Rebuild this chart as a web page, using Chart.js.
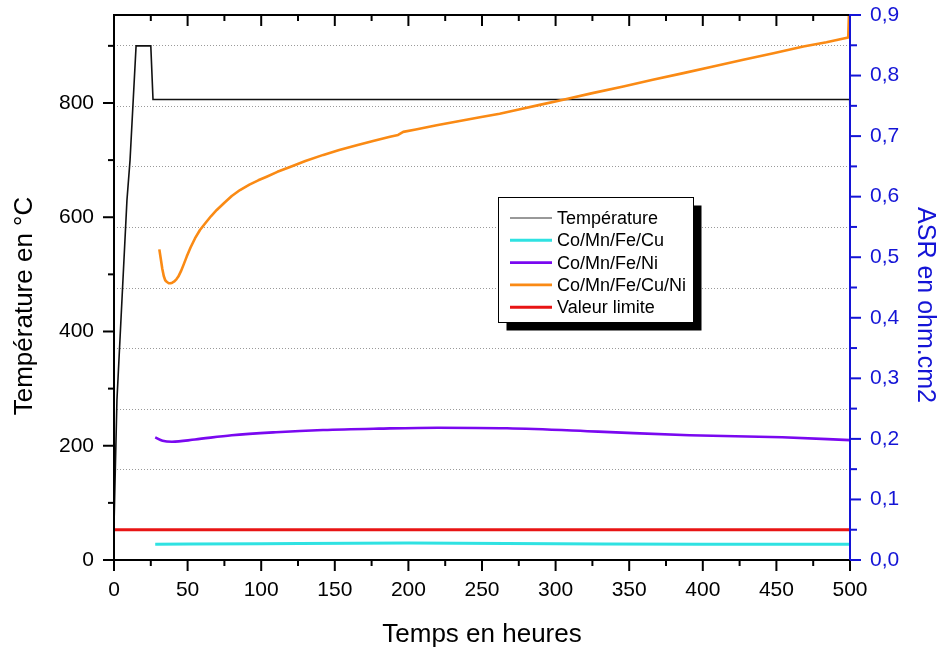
<!DOCTYPE html>
<html><head><meta charset="utf-8">
<script src="https://cdn.jsdelivr.net/npm/chart.js@4/dist/chart.umd.min.js"></script>
<style>html,body{margin:0;padding:0;background:#fff}#wrap{width:942px;height:651px;position:relative}</style>
</head><body><div id="wrap"><canvas id="c" width="942" height="651"></canvas></div>
<script>
// ---- data ----
const tempHours  = [0, 2, 8.8, 10.9, 15, 25, 26.5, 499.8, 500];
const tempValues = [60, 280, 630, 700, 900, 900, 806, 806, 758];

const cuNiHours  = [30.8, 31.8, 32.8, 33.8, 34.8, 36, 37.2, 38.4, 39.6, 41, 42.5, 43.7, 45.5, 47.5, 49.4, 52, 55, 58.4, 62, 66, 69.8, 75, 80, 85.6, 92, 98, 103.7, 111, 119.6, 130, 142.2, 153, 164.9, 176, 187.5, 193, 196.5, 205, 219.2, 233, 248.6, 262, 275, 290, 305.2, 325, 346, 366, 386.8, 407, 427.5, 448, 468.3, 484, 498.8, 499.9];
const cuNiValues = [0.513, 0.497, 0.481, 0.469, 0.462, 0.459, 0.457, 0.457, 0.458, 0.460, 0.464, 0.468, 0.477, 0.489, 0.501, 0.516, 0.531, 0.545, 0.556, 0.568, 0.578, 0.590, 0.601, 0.611, 0.620, 0.627, 0.633, 0.641, 0.649, 0.659, 0.669, 0.677, 0.685, 0.692, 0.699, 0.702, 0.707, 0.711, 0.718, 0.724, 0.731, 0.737, 0.744, 0.752, 0.760, 0.771, 0.782, 0.793, 0.804, 0.815, 0.826, 0.837, 0.848, 0.855, 0.863, 0.95];

const niHours  = [28, 33, 39.4, 55, 80, 110, 142, 180, 220, 267, 329, 391, 454, 500];
const niValues = [0.2026, 0.197, 0.1953, 0.199, 0.206, 0.211, 0.2147, 0.217, 0.2185, 0.2175, 0.212, 0.206, 0.2026, 0.198];

const cuHours  = [28, 100, 200, 300, 400, 500];
const cuValues = [0.026, 0.027, 0.028, 0.027, 0.026, 0.026];

const limitHours  = [0, 500];
const limitValues = [0.05, 0.05];

const xTicks    = [0, 50, 100, 150, 200, 250, 300, 350, 400, 450, 500];
const tempTicks = [0, 200, 400, 600, 800];
const asrTicks  = [0, 0.1, 0.2, 0.3, 0.4, 0.5, 0.6, 0.7, 0.8, 0.9];
const asrLabels = ['0,0','0,1','0,2','0,3','0,4','0,5','0,6','0,7','0,8','0,9'];

const labels = ['Température', 'Co/Mn/Fe/Cu', 'Co/Mn/Fe/Ni', 'Co/Mn/Fe/Cu/Ni', 'Valeur limite'];
const xTitle = 'Temps en heures';
const yTitle = 'Température en °C';
const y2Title = 'ASR en ohm.cm2';

const pts = (xs, ys) => xs.map((x, i) => ({x, y: ys[i]}));

const FONT = "'Liberation Sans', Arial, sans-serif";
const BLUE = '#1414d6';

const frame = {
  id: 'frame',
  beforeDatasetsDraw(chart) {
    const {ctx, chartArea: a, scales} = chart;
    ctx.save();
    ctx.strokeStyle = '#9a9a9a';
    ctx.lineWidth = 1;
    ctx.setLineDash([1, 2]);
    for (let v = 0.05; v < 0.9; v += 0.1) {
      const y = Math.round(scales.yA.getPixelForValue(v)) + 0.5;
      ctx.beginPath(); ctx.moveTo(a.left, y); ctx.lineTo(a.right, y); ctx.stroke();
    }
    ctx.restore();
  },
  afterDatasetsDraw(chart) {
    const {ctx, chartArea: a, scales} = chart;
    const sx = scales.x, sT = scales.yT, sA = scales.yA;
    ctx.save();
    ctx.setLineDash([]);
    // frame
    ctx.lineWidth = 2;
    ctx.strokeStyle = '#000';
    ctx.beginPath();
    ctx.moveTo(a.right, a.top); ctx.lineTo(a.left, a.top); ctx.lineTo(a.left, a.bottom); ctx.lineTo(a.right, a.bottom);
    ctx.stroke();
    ctx.strokeStyle = BLUE;
    ctx.beginPath(); ctx.moveTo(a.right, a.top - 1); ctx.lineTo(a.right, a.bottom + 1); ctx.stroke();

    // x ticks (bottom outward, top inward)
    ctx.strokeStyle = '#000';
    ctx.lineWidth = 2;
    for (let v = 0; v <= 500; v += 25) {
      const x = sx.getPixelForValue(v);
      const major = v % 50 === 0;
      const L = major ? 11 : 6;
      ctx.beginPath(); ctx.moveTo(x, a.bottom); ctx.lineTo(x, a.bottom + L); ctx.stroke();
      if (v > 0 && v < 500) {
        ctx.beginPath(); ctx.moveTo(x, a.top); ctx.lineTo(x, a.top + L); ctx.stroke();
      }
    }
    // left ticks
    for (let v = 0; v <= 900; v += 100) {
      const y = sT.getPixelForValue(v);
      const L = v % 200 === 0 ? 11 : 6;
      ctx.beginPath(); ctx.moveTo(a.left, y); ctx.lineTo(a.left - L, y); ctx.stroke();
    }
    // right ticks
    ctx.strokeStyle = BLUE;
    for (let i = 0; i <= 18; i++) {
      const v = i * 0.05;
      const y = sA.getPixelForValue(v);
      const L = i % 2 === 0 ? 11 : 7;
      ctx.beginPath(); ctx.moveTo(a.right, y); ctx.lineTo(a.right + L, y); ctx.stroke();
    }

    // tick labels
    ctx.font = '21px ' + FONT;
    ctx.fillStyle = '#000';
    ctx.textAlign = 'center'; ctx.textBaseline = 'middle';
    xTicks.forEach(v => ctx.fillText(String(v), sx.getPixelForValue(v), a.bottom + 30));
    ctx.textAlign = 'right';
    tempTicks.forEach(v => ctx.fillText(String(v), a.left - 20, sT.getPixelForValue(v)));
    ctx.fillStyle = BLUE;
    ctx.textAlign = 'left';
    asrTicks.forEach((v, i) => ctx.fillText(asrLabels[i], a.right + 20, sA.getPixelForValue(v)));

    // titles
    ctx.fillStyle = '#000';
    ctx.font = '26px ' + FONT;
    ctx.textAlign = 'center'; ctx.textBaseline = 'alphabetic';
    ctx.fillText(xTitle, (a.left + a.right) / 2, 642);
    ctx.save();
    ctx.translate(32, 306); ctx.rotate(-Math.PI / 2);
    ctx.fillText(yTitle, 0, 0);
    ctx.restore();
    ctx.save();
    ctx.fillStyle = BLUE;
    ctx.font = '25px ' + FONT;
    ctx.translate(918, 305); ctx.rotate(Math.PI / 2);
    ctx.fillText(y2Title, 0, 0);
    ctx.restore();

    // legend
    const bx = 498.5, by = 197.5, bw = 195, bh = 125;
    ctx.fillStyle = '#000';
    ctx.fillRect(bx + 8, by + 8, bw, bh);
    ctx.fillStyle = '#fff';
    ctx.fillRect(bx, by, bw, bh);
    ctx.lineWidth = 1; ctx.strokeStyle = '#000';
    ctx.strokeRect(bx, by, bw, bh);
    ctx.font = '18px ' + FONT;
    ctx.textAlign = 'left'; ctx.textBaseline = 'middle';
    chart.data.datasets.forEach((ds, i) => {
      const y = 218 + i * 22.3;
      ctx.strokeStyle = ds.legendColor || ds.borderColor;
      ctx.lineWidth = ds.legendWidth;
      ctx.beginPath(); ctx.moveTo(510, y); ctx.lineTo(552, y); ctx.stroke();
      ctx.fillStyle = '#000';
      ctx.fillText(ds.label, 557, y + 1);
    });
    ctx.restore();
  }
};

new Chart(document.getElementById('c'), {
  type: 'line',
  data: {
    datasets: [
      {label: labels[0], data: pts(tempHours, tempValues), yAxisID: 'yT', borderColor: '#111', borderWidth: 1.6, legendWidth: 1, legendColor: '#333', order: 5},
      {label: labels[1], data: pts(cuHours, cuValues), yAxisID: 'yA', borderColor: '#2fe2e2', borderWidth: 3, legendWidth: 3, cubicInterpolationMode: 'monotone'},
      {label: labels[2], data: pts(niHours, niValues), yAxisID: 'yA', borderColor: '#7a08f0', borderWidth: 2.6, legendWidth: 2.6, cubicInterpolationMode: 'monotone'},
      {label: labels[3], data: pts(cuNiHours, cuNiValues), yAxisID: 'yA', borderColor: '#fa8a14', borderWidth: 2.6, legendWidth: 2.6, borderJoinStyle: 'round'},
      {label: labels[4], data: pts(limitHours, limitValues), yAxisID: 'yA', borderColor: '#e81414', borderWidth: 3, legendWidth: 3}
    ]
  },
  options: {
    responsive: false,
    animation: false,
    events: [],
    layout: {padding: {left: 114, right: 92, top: 15, bottom: 91}},
    elements: {point: {radius: 0}, line: {tension: 0}},
    plugins: {legend: {display: false}, tooltip: {enabled: false}},
    scales: {
      x: {type: 'linear', min: 0, max: 500, display: false},
      yT: {type: 'linear', position: 'left', min: 0, max: 954, display: false},
      yA: {type: 'linear', position: 'right', min: 0, max: 0.9, display: false}
    }
  },
  plugins: [frame]
});
</script>
</body></html>
